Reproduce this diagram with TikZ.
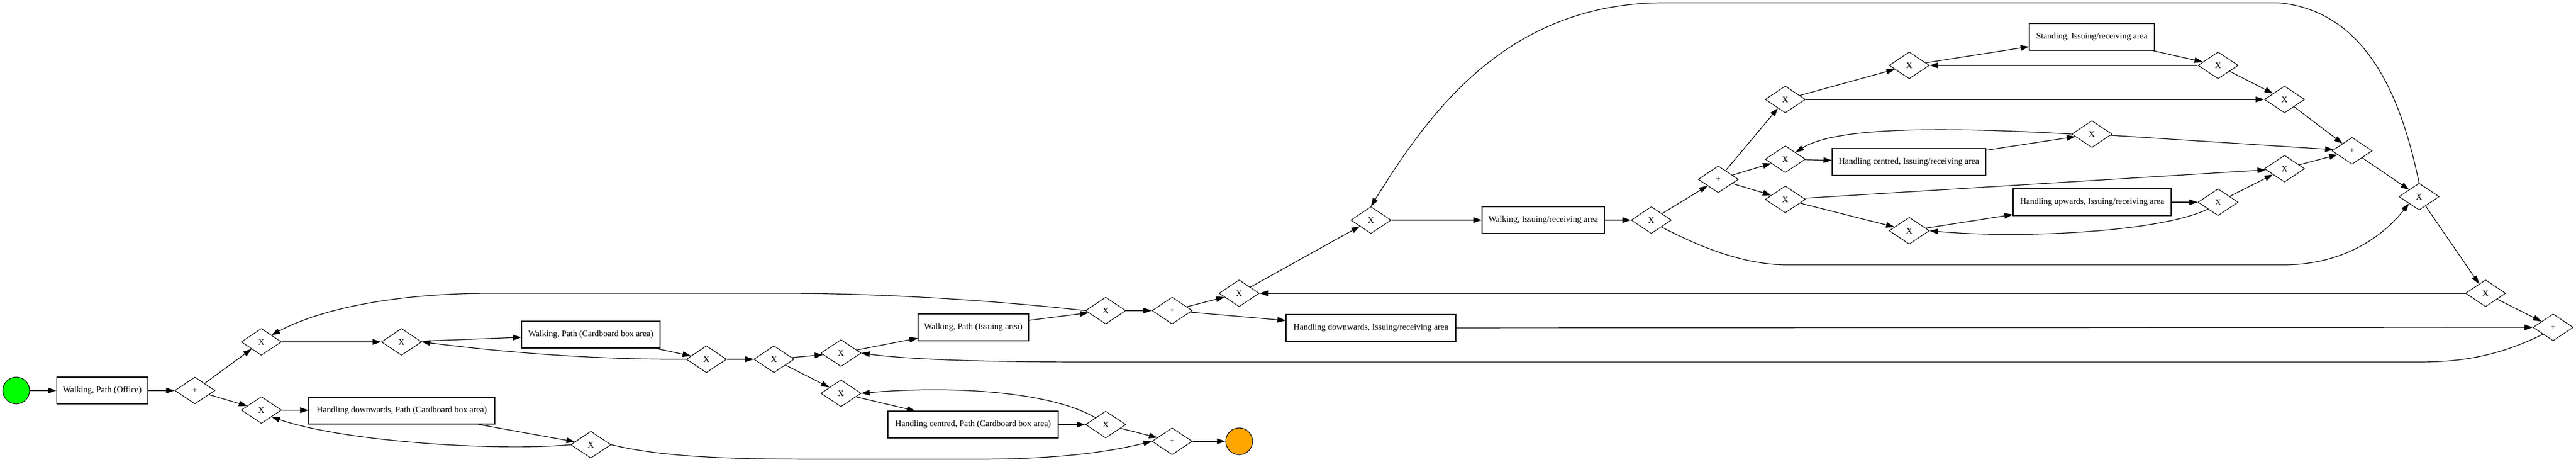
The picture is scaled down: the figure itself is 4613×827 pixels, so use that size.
\documentclass[tikz,border=0pt]{standalone}
\usepackage{fontspec}
\setmainfont{Liberation Serif}
\usetikzlibrary{shapes.geometric,arrows.meta}
\definecolor{startgreen}{HTML}{00FF00}
\definecolor{endorange}{HTML}{FFA500}
\begin{document}
\begin{tikzpicture}[x=1pt,y=-1pt,
  every node/.style={font=\fontsize{15.5}{18}\selectfont},
  task/.style={draw,fill=white,rectangle,minimum height=48pt,inner sep=0pt,line width=1.1pt},
  gw/.style={draw,fill=white,diamond,minimum width=72pt,minimum height=48pt,inner sep=0pt,line width=1.1pt},
  ev/.style={draw,circle,minimum size=48pt,inner sep=0pt,line width=1.1pt},
  arr/.style={line width=1.2pt,-{Triangle[length=15pt,width=10pt]}},
]
\useasboundingbox (0,0) rectangle (4613,827);
% nodes
\node[ev,fill=startgreen] (start) at (29,699) {};
\node[task,minimum width=163pt] (wpo) at (183,699) {Walking, Path (Office)};
\node[gw] (g1) at (349,699) {+};
\node[gw] (x1) at (468,612) {X};
\node[gw] (x2) at (468,734) {X};
\node[gw] (x3) at (719,612) {X};
\node[task,minimum width=333pt] (hdpcb) at (719.5,735) {Handling downwards, Path (Cardboard box area)};
\node[task,minimum width=248pt] (wpcb) at (1058,599) {Walking, Path (Cardboard box area)};
\node[gw] (x4) at (1265,643) {X};
\node[gw] (x5) at (1386,643) {X};
\node[gw] (x7) at (1058,796) {X};
\node[gw] (x6) at (1506,632) {X};
\node[gw] (x8) at (1506,704) {X};
\node[task,minimum width=198pt] (wpia) at (1743,586) {Walking, Path (Issuing area)};
\node[gw] (x9) at (1980,556) {X};
\node[gw] (g2) at (2099,556) {+};
\node[gw] (x10) at (2219,525) {X};
\node[task,minimum width=305pt] (hcpcb) at (1742.5,760) {Handling centred, Path (Cardboard box area)};
\node[gw] (x11) at (1980,760) {X};
\node[gw] (g3) at (2099,790) {+};
\node[ev,fill=endorange] (stop) at (2219,790) {};
\node[task,minimum width=304pt] (hdir) at (2455,587) {Handling downwards, Issuing/receiving area};
\node[gw] (x12) at (2455,394) {X};
\node[task,minimum width=219pt] (wir) at (2763.5,394) {Walking, Issuing/receiving area};
\node[gw] (x13) at (2957,394) {X};
\node[gw] (g4) at (3077,321) {+};
\node[gw] (x14) at (3197,178) {X};
\node[gw] (x15) at (3197,285) {X};
\node[gw] (x16) at (3197,357) {X};
\node[task,minimum width=275pt] (hcir) at (3418.5,290) {Handling centred, Issuing/receiving area};
\node[gw] (x17) at (3746,240) {X};
\node[gw] (x18) at (3419,413) {X};
\node[task,minimum width=283pt] (huir) at (3746.5,362) {Handling upwards, Issuing/receiving area};
\node[gw] (x19) at (3972,362) {X};
\node[gw] (x21) at (3419,117) {X};
\node[task,minimum width=224pt] (sir) at (3746,66) {Standing, Issuing/receiving area};
\node[gw] (x22) at (3972,117) {X};
\node[gw] (x23) at (4091,178) {X};
\node[gw] (x20) at (4091,302) {X};
\node[gw] (g5) at (4212,270) {+};
\node[gw] (xr1) at (4332,352) {X};
\node[gw] (xr2) at (4451,525) {X};
\node[gw] (gr) at (4572,586) {+};
% straight edges
\draw[arr] (start) -- (wpo);
\draw[arr] (wpo) -- (g1);
\draw[arr] (g1) -- (x1);
\draw[arr] (g1) -- (x2);
\draw[arr] (x1) -- (x3);
\draw[arr] (x3) -- (wpcb);
\draw[arr] (wpcb) -- (x4);
\draw[arr] (x4) -- (x5);
\draw[arr] (x5) -- (x6);
\draw[arr] (x5) -- (x8);
\draw[arr] (x2) -- (hdpcb);
\draw[arr] (hdpcb) -- (x7);
\draw[arr] (x6) -- (wpia);
\draw[arr] (wpia) -- (x9);
\draw[arr] (x8) -- (hcpcb);
\draw[arr] (hcpcb) -- (x11);
\draw[arr] (x11) -- (g3);
\draw[arr] (g3) -- (stop);
\draw[arr] (x9) -- (g2);
\draw[arr] (g2) -- (x10);
\draw[arr] (g2) -- (hdir);
\draw[arr] (x10) -- (x12);
\draw[arr] (xr2) -- (x10);
\draw[arr] (x12) -- (wir);
\draw[arr] (wir) -- (x13);
\draw[arr] (x13) -- (g4);
\draw[arr] (g4) -- (x14);
\draw[arr] (g4) -- (x15);
\draw[arr] (g4) -- (x16);
\draw[arr] (x14) -- (x21);
\draw[arr] (x14) -- (x23);
\draw[arr] (x21) -- (sir);
\draw[arr] (sir) -- (x22);
\draw[arr] (x22) -- (x21);
\draw[arr] (x22) -- (x23);
\draw[arr] (x15) -- (hcir);
\draw[arr] (hcir) -- (x17);
\draw[arr] (x17) -- (g5);
\draw[arr] (x16) -- (x20);
\draw[arr] (x16) -- (x18);
\draw[arr] (x18) -- (huir);
\draw[arr] (huir) -- (x19);
\draw[arr] (x19) -- (x20);
\draw[arr] (x20) -- (g5);
\draw[arr] (x23) -- (g5);
\draw[arr] (g5) -- (xr1);
\draw[arr] (xr1) -- (xr2);
\draw[arr] (xr2) -- (gr);
\draw[arr] (hdir) -- (gr);
% curved edges
\draw[arr] (x4.west) .. controls (1050,644) and (880,628) .. (x3.east);
\draw[arr] (x7.west) .. controls (900,808) and (620,792) .. (x2.south east);
\draw[arr] (x7.east) .. controls (1200,822) and (1350,822) .. (1500,822) -- (1750,822) .. controls (1900,822) and (1990,808) .. (g3.west);
\draw[arr] (x9.west) .. controls (1800,540) and (1600,525) .. (1400,525) -- (880,525) .. controls (700,525) and (570,555) .. (x1.north east);
\draw[arr] (x11.north west) .. controls (1880,700) and (1700,690) .. (x8.east);
\draw[arr] (x13.south east) .. controls (3040,440) and (3120,474) .. (3200,474) -- (4090,474) .. controls (4200,474) and (4270,420) .. (xr1.south west);
\draw[arr] (x17.west) .. controls (3500,228) and (3290,225) .. (x15.north east);
\draw[arr] (x19.south west) .. controls (3870,415) and (3620,428) .. (x18.east);
\draw[arr] (xr1.north) .. controls (4305,200) and (4250,20) .. (4080,5) -- (2980,5) .. controls (2700,5) and (2560,200) .. (x12.north);
\draw[arr] (gr.south west) .. controls (4470,640) and (4400,648) .. (4330,648) -- (1950,648) .. controls (1700,648) and (1600,640) .. (x6.east);
\end{tikzpicture}
\end{document}
